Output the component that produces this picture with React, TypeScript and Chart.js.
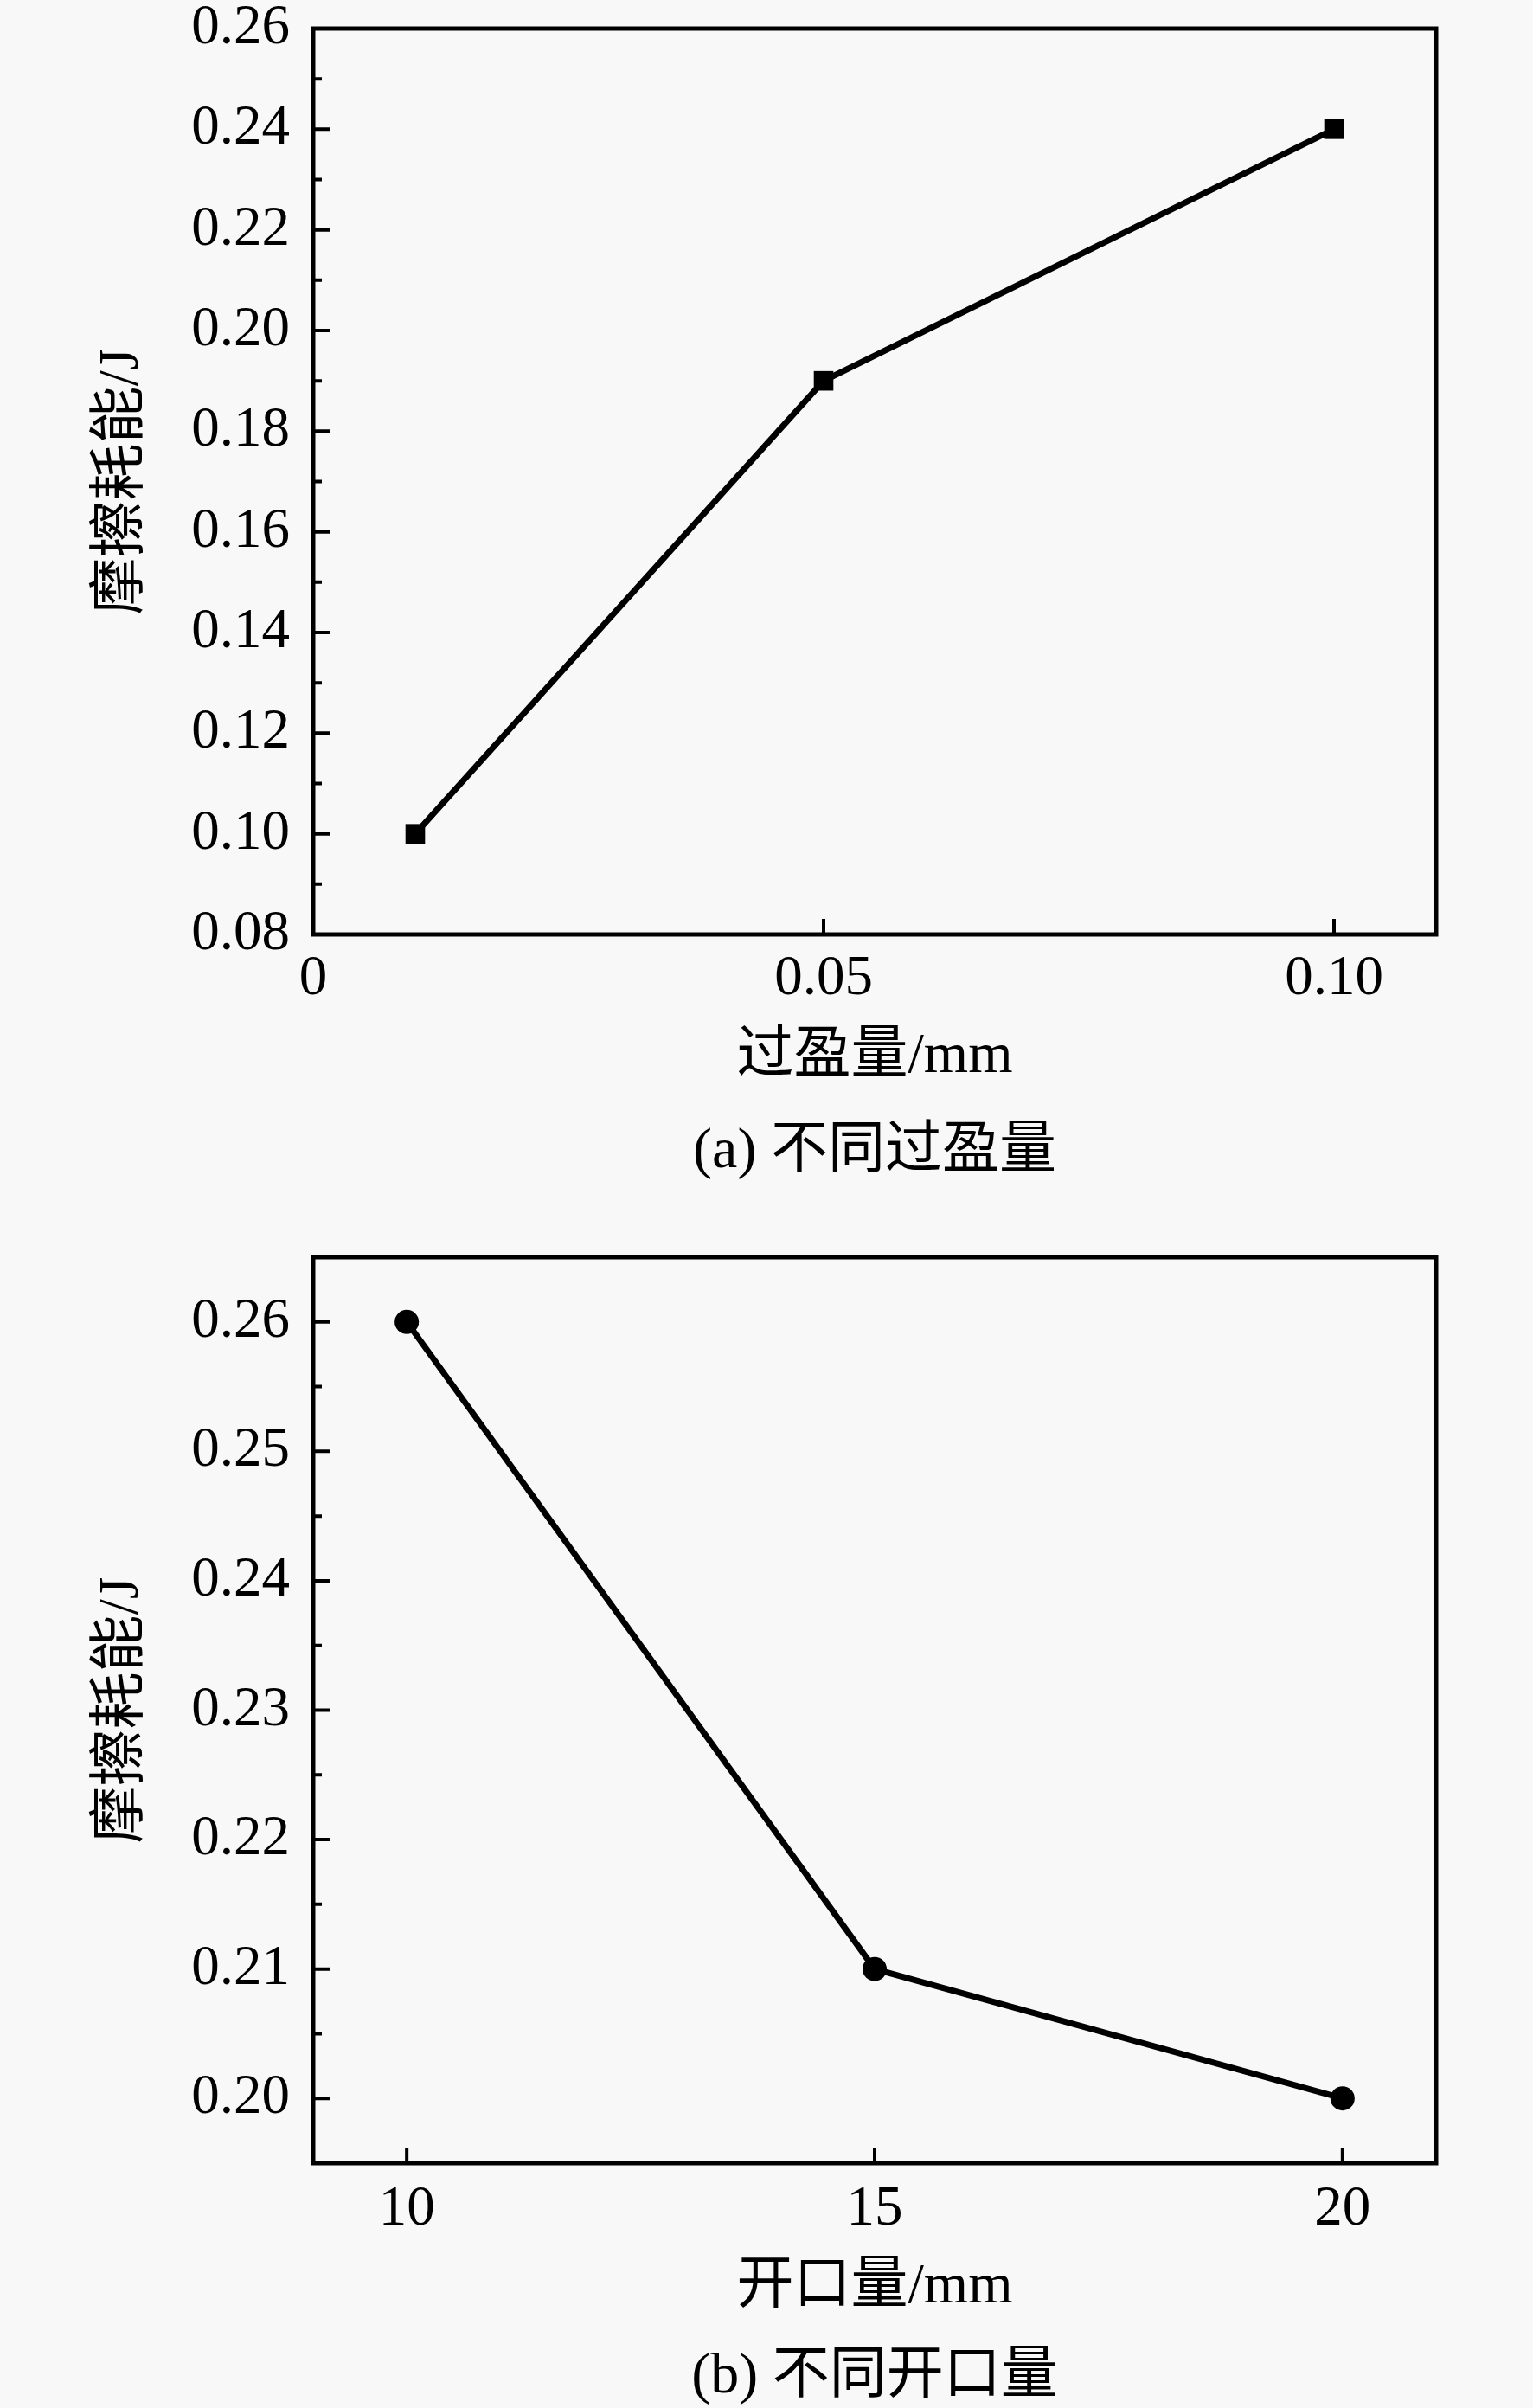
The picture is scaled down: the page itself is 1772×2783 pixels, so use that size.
import React, { useEffect, useRef } from 'react';
import { Chart, registerables } from 'chart.js';

Chart.register(...registerables);

// ---------- Data: chart (a) ----------
const xA = [0.01, 0.05, 0.10];
const yA = [0.10, 0.19, 0.24];
const xTicksA = [0, 0.05, 0.10];
const xTickLabelsA = ['0', '0.05', '0.10'];
const yTicksA = [0.08, 0.10, 0.12, 0.14, 0.16, 0.18, 0.20, 0.22, 0.24, 0.26];
const yTickLabelsA = ['0.08', '0.10', '0.12', '0.14', '0.16', '0.18', '0.20', '0.22', '0.24', '0.26'];
const yMinorA = [0.09, 0.11, 0.13, 0.15, 0.17, 0.19, 0.21, 0.23, 0.25];
const xTitleA = '过盈量/mm';
const captionA = '(a) 不同过盈量';

// ---------- Data: chart (b) ----------
const xB = [10, 15, 20];
const yB = [0.26, 0.21, 0.20];
const xTicksB = [10, 15, 20];
const xTickLabelsB = ['10', '15', '20'];
const yTicksB = [0.20, 0.21, 0.22, 0.23, 0.24, 0.25, 0.26];
const yTickLabelsB = ['0.20', '0.21', '0.22', '0.23', '0.24', '0.25', '0.26'];
const yMinorB = [0.205, 0.215, 0.225, 0.235, 0.245, 0.255];
const xTitleB = '开口量/mm';
const captionB = '(b) 不同开口量';

const yTitle = '摩擦耗能/J';

const FONT = '"Liberation Serif", "Noto Sans CJK SC", serif';
const BG = '#f8f8f8';

type Cfg = {
  xs: number[];
  ys: number[];
  xTicks: number[];
  xLabels: string[];
  yTicks: number[];
  yLabels: string[];
  yMinor: number[];
  xMin: number;
  xMax: number;
  yMin: number;
  yMax: number;
  xTitle: string;
  caption: string;
  captionOffset: number;
  pointStyle: string;
  pointRadius: number;
  padTop: number;
  padBottom: number;
  height: number;
  xTickPad: number;
  xTitlePad: number;
};

function makeFramePlugin(cfg: Cfg) {
  return {
    id: 'frameTicks',
    afterDraw(chart: any) {
      const { ctx, chartArea: a, scales } = chart;
      ctx.save();
      ctx.strokeStyle = '#000';
      ctx.lineWidth = 5;
      ctx.strokeRect(a.left, a.top, a.right - a.left, a.bottom - a.top);
      ctx.lineWidth = 4;
      ctx.beginPath();
      for (const t of scales.y.ticks) {
        const py = scales.y.getPixelForValue(t.value);
        ctx.moveTo(a.left, py);
        ctx.lineTo(a.left + 20, py);
      }
      for (const v of cfg.yMinor) {
        const py = scales.y.getPixelForValue(v);
        ctx.moveTo(a.left, py);
        ctx.lineTo(a.left + 10, py);
      }
      for (const t of scales.x.ticks) {
        const px = scales.x.getPixelForValue(t.value);
        ctx.moveTo(px, a.bottom);
        ctx.lineTo(px, a.bottom - 18);
      }
      ctx.stroke();
      ctx.font = '66px ' + FONT;
      ctx.fillStyle = '#000';
      ctx.textAlign = 'center';
      ctx.textBaseline = 'middle';
      ctx.fillText(cfg.caption, (a.left + a.right) / 2, a.bottom + cfg.captionOffset);
      ctx.restore();
    },
  };
}

function LineChart({ cfg, top }: { cfg: Cfg; top: number }) {
  const ref = useRef<HTMLCanvasElement | null>(null);
  useEffect(() => {
    if (!ref.current) return;
    const chart = new Chart(ref.current, {
      type: 'line',
      data: {
        datasets: [
          {
            data: cfg.xs.map((x, i) => ({ x, y: cfg.ys[i] })),
            borderColor: '#000',
            borderWidth: 7,
            backgroundColor: '#000',
            pointBackgroundColor: '#000',
            pointBorderColor: '#000',
            pointBorderWidth: 0,
            pointStyle: cfg.pointStyle as any,
            pointRadius: cfg.pointRadius,
            tension: 0,
            fill: false,
          },
        ],
      },
      options: {
        animation: false,
        responsive: false,
        devicePixelRatio: 1,
        layout: { padding: { left: 0, right: 112, top: cfg.padTop, bottom: cfg.padBottom } },
        plugins: { legend: { display: false }, tooltip: { enabled: false }, title: { display: false } },
        scales: {
          x: {
            type: 'linear',
            min: cfg.xMin,
            max: cfg.xMax,
            grid: { display: false, drawTicks: false },
            border: { display: false },
            afterBuildTicks: (scale: any) => {
              scale.ticks = cfg.xTicks.map((v) => ({ value: v }));
            },
            afterFit: (scale: any) => {
              scale.height = 200;
              scale.paddingLeft = 0;
              scale.paddingRight = 0;
            },
            ticks: {
              color: '#000',
              padding: cfg.xTickPad,
              maxRotation: 0,
              autoSkip: false,
              font: { family: FONT, size: 65, lineHeight: 1.2 },
              callback: (_v: any, i: number) => cfg.xLabels[i],
            },
            title: {
              display: true,
              text: cfg.xTitle,
              color: '#000',
              font: { family: FONT, size: 66, lineHeight: 1.2 },
              padding: { top: 0, bottom: cfg.xTitlePad },
            },
          },
          y: {
            type: 'linear',
            min: cfg.yMin,
            max: cfg.yMax,
            grid: { display: false, drawTicks: false },
            border: { display: false },
            afterBuildTicks: (scale: any) => {
              scale.ticks = cfg.yTicks.map((v) => ({ value: v }));
            },
            afterFit: (scale: any) => {
              scale.width = 362;
              scale.paddingTop = 0;
              scale.paddingBottom = 0;
            },
            ticks: {
              color: '#000',
              padding: 27,
              autoSkip: false,
              font: { family: FONT, size: 65, lineHeight: 1.2 },
              callback: (_v: any, i: number) => cfg.yLabels[i],
            },
            title: {
              display: true,
              text: yTitle,
              color: '#000',
              font: { family: FONT, size: 66, lineHeight: 1.2 },
              padding: { top: 102, bottom: 0 },
            },
          },
        },
      },
      plugins: [makeFramePlugin(cfg)],
    } as any);
    return () => chart.destroy();
  }, [cfg]);
  return (
    <canvas
      ref={ref}
      width={1772}
      height={cfg.height}
      style={{ position: 'absolute', left: 0, top, width: 1772, height: cfg.height, display: 'block' }}
    />
  );
}

const cfgA: Cfg = {
  xs: xA,
  ys: yA,
  xTicks: xTicksA,
  xLabels: xTickLabelsA,
  yTicks: yTicksA,
  yLabels: yTickLabelsA,
  yMinor: yMinorA,
  xMin: 0,
  xMax: 0.11,
  yMin: 0.08,
  yMax: 0.26,
  xTitle: xTitleA,
  caption: captionA,
  captionOffset: 252,
  pointStyle: 'rect',
  pointRadius: 16,
  padTop: 33,
  padBottom: 111,
  height: 1391,
  xTickPad: 13,
  xTitlePad: 19,
};

const cfgB: Cfg = {
  xs: xB,
  ys: yB,
  xTicks: xTicksB,
  xLabels: xTickLabelsB,
  yTicks: yTicksB,
  yLabels: yTickLabelsB,
  yMinor: yMinorB,
  xMin: 9,
  xMax: 21,
  yMin: 0.195,
  yMax: 0.265,
  xTitle: xTitleB,
  caption: captionB,
  captionOffset: 248,
  pointStyle: 'circle',
  pointRadius: 14,
  padTop: 62,
  padBottom: 83,
  height: 1392,
  xTickPad: 15,
  xTitlePad: 17,
};

export default function App() {
  return (
    <div
      style={{
        position: 'absolute',
        left: 0,
        top: 0,
        width: 1772,
        height: 2783,
        background: BG,
        overflow: 'hidden',
      }}
    >
      <LineChart cfg={cfgA} top={0} />
      <LineChart cfg={cfgB} top={1391} />
    </div>
  );
}
